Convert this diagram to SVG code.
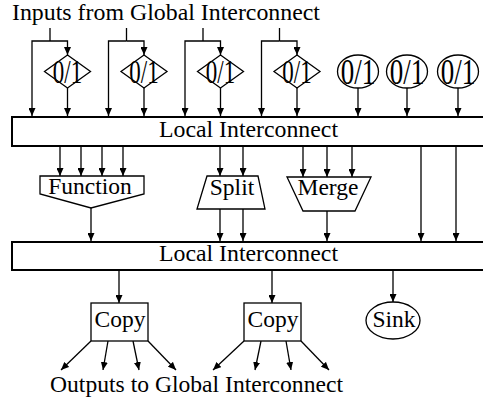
<svg xmlns="http://www.w3.org/2000/svg" width="483" height="402" viewBox="0 0 483 402">
<style>
.l{fill:none;stroke:#000;stroke-width:1.3}
.a{fill:none;stroke:#000;stroke-width:1.3;marker-end:url(#ah)}
.s{fill:#fff;stroke:#000;stroke-width:1.3}
.b{fill:#fff;stroke:#000;stroke-width:2}
text{font-family:"Liberation Serif","Times New Roman",serif;font-size:23.5px;fill:#000;text-anchor:middle}
.t01{font-size:27px}
.d01{font-size:23px}
</style>
<defs>
<marker id="ah" markerUnits="userSpaceOnUse" markerWidth="9" markerHeight="7" refX="8" refY="3.5" orient="auto">
<path d="M0,0 L8,3.5 L0,7 z" fill="#000"/>
</marker>
</defs>
<text id="title" x="12" y="20" style="text-anchor:start" textLength="308" lengthAdjust="spacingAndGlyphs">Inputs from Global Interconnect</text>
<g id="connectors">
<path class="l" d="M50,28V41M126.5,28V41M203,28V41M279.5,28V41"/>
<path class="a" d="M50,41H32V116"/>
<path class="a" d="M50,41H67.5V55"/>
<path class="a" d="M126.5,41H108.5V116"/>
<path class="a" d="M126.5,41H144V55"/>
<path class="a" d="M203,41H185V116"/>
<path class="a" d="M203,41H220.5V55"/>
<path class="a" d="M279.5,41H261.5V116"/>
<path class="a" d="M279.5,41H297V55"/>
<path class="a" d="M67.5,88V116"/>
<path class="a" d="M144,88V116"/>
<path class="a" d="M220.5,88V116"/>
<path class="a" d="M297,88V116"/>
<path class="a" d="M358,88V116"/>
<path class="a" d="M407,88V116"/>
<path class="a" d="M458,88V116"/>
<path class="a" d="M60,146V176"/>
<path class="a" d="M81,146V176"/>
<path class="a" d="M102,146V176"/>
<path class="a" d="M123,146V176"/>
<path class="a" d="M220,146V176"/>
<path class="a" d="M243,146V176"/>
<path class="a" d="M303,146V177"/>
<path class="a" d="M327,146V177"/>
<path class="a" d="M352,146V177"/>
<path class="a" d="M421,146V241"/>
<path class="a" d="M456,146V241"/>
<path class="a" d="M91,208V241"/>
<path class="a" d="M220,209V241"/>
<path class="a" d="M243,209V241"/>
<path class="a" d="M327,211V241"/>
<path class="a" d="M119,271V303"/>
<path class="a" d="M272,271V303"/>
<path class="a" d="M393,271V302"/>
<path class="a" d="M91,341L61,370"/>
<path class="a" d="M108,341L103,370"/>
<path class="a" d="M133,341L139,370"/>
<path class="a" d="M148,341L176,370"/>
<path class="a" d="M244,341L213,370"/>
<path class="a" d="M261,341L255,370"/>
<path class="a" d="M286,341L291,370"/>
<path class="a" d="M301,341L329,370"/>
</g>
<g id="mux1"><polygon class="s" points="67.5,55 90.5,71.5 67.5,88 44.5,71.5"/><text class="d01" transform="translate(67.5,83) scale(1,1.5)">0/1</text></g>
<g id="mux2"><polygon class="s" points="144,55 167,71.5 144,88 121,71.5"/><text class="d01" transform="translate(144,83) scale(1,1.5)">0/1</text></g>
<g id="mux3"><polygon class="s" points="220.5,55 243.5,71.5 220.5,88 197.5,71.5"/><text class="d01" transform="translate(220.5,83) scale(1,1.5)">0/1</text></g>
<g id="mux4"><polygon class="s" points="297,55 320,71.5 297,88 274,71.5"/><text class="d01" transform="translate(297,83) scale(1,1.5)">0/1</text></g>
<g id="const1"><ellipse class="s" cx="358" cy="71.5" rx="20.5" ry="16.5"/><text class="t01" transform="translate(358,83.5) scale(1,1.3)">0/1</text></g>
<g id="const2"><ellipse class="s" cx="407" cy="71.5" rx="20.5" ry="16.5"/><text class="t01" transform="translate(407,83.5) scale(1,1.3)">0/1</text></g>
<g id="const3"><ellipse class="s" cx="458" cy="71.5" rx="20.5" ry="16.5"/><text class="t01" transform="translate(458,83.5) scale(1,1.3)">0/1</text></g>
<g id="local1"><rect class="b" x="12" y="117" width="480" height="29"/><text x="248.5" y="137" textLength="179" lengthAdjust="spacingAndGlyphs">Local Interconnect</text></g>
<g id="function"><polygon class="s" points="40,176 144,176 144,194 91,208 40,194"/><text x="90" y="193.5">Function</text></g>
<g id="split"><polygon class="s" points="207,176 258,176 265,209 197,209"/><text x="232" y="195">Split</text></g>
<g id="merge"><polygon class="s" points="287,177 371,177 355,211 303,211"/><text x="328" y="195">Merge</text></g>
<g id="local2"><rect class="b" x="12" y="242" width="480" height="28"/><text x="248.5" y="261" textLength="179" lengthAdjust="spacingAndGlyphs">Local Interconnect</text></g>
<g id="copy1"><rect class="s" x="91" y="303" width="57" height="38"/><text x="120" y="327">Copy</text></g>
<g id="copy2"><rect class="s" x="244" y="303" width="57" height="38"/><text x="273" y="327">Copy</text></g>
<g id="sink"><ellipse class="s" cx="393" cy="320.5" rx="27" ry="18.5"/><text x="394" y="327">Sink</text></g>
<text id="outputs" x="50" y="392" style="text-anchor:start" textLength="293" lengthAdjust="spacingAndGlyphs">Outputs to Global Interconnect</text>
</svg>
